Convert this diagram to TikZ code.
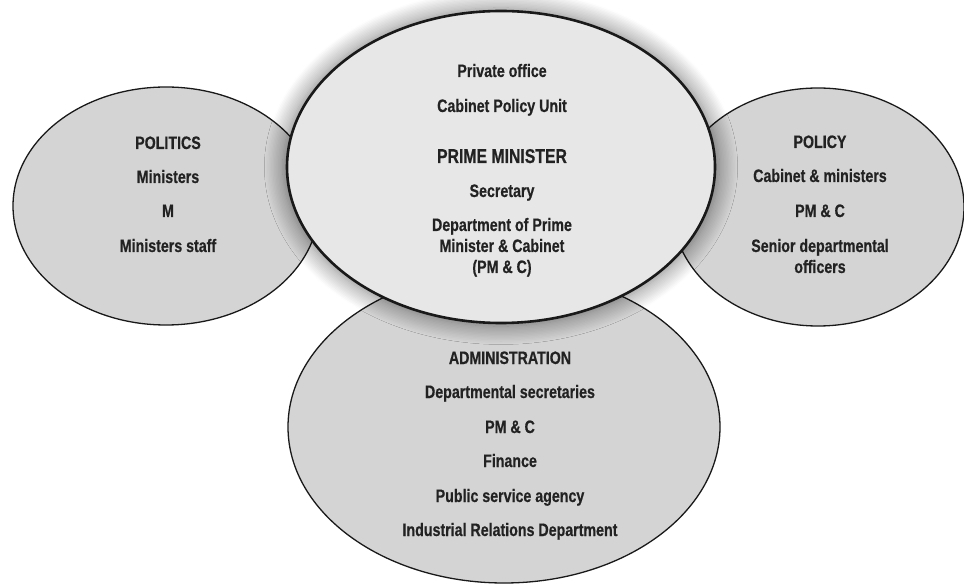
\documentclass[tikz,border=0pt]{standalone}
\usepackage{fontspec}
\setmainfont{Liberation Sans}[FakeStretch=0.79, BoldFeatures={FakeBold=0.5}]
\usetikzlibrary{shapes.geometric,shadows.blur}
\definecolor{outerfill}{HTML}{D4D4D4}
\definecolor{corefill}{HTML}{E7E7E7}
\definecolor{inkgray}{HTML}{222222}
\tikzset{
  sphere/.style={ellipse, inner sep=0pt, fill=outerfill, draw=black!90, line width=1.3pt},
  core/.style={ellipse, inner sep=0pt, fill=corefill, draw=black!90, line width=2.6pt,
    blur shadow={shadow xshift=0pt, shadow yshift=0pt, shadow scale=1.02,
                 shadow blur radius=18pt, shadow blur steps=14, shadow opacity=50}},
  lbl/.style={anchor=base, inner sep=0pt, text=inkgray,
    font=\bfseries\fontsize{18}{20}\selectfont},
  biglbl/.style={lbl, font=\bfseries\fontsize{20}{22}\selectfont}
}
\begin{document}
\begin{tikzpicture}[x=1pt,y=-1pt]
\useasboundingbox (0,0) rectangle (964,585);

% surrounding spheres
\node[sphere, minimum width=306pt, minimum height=238pt] (politics) at (166,206) {};
\node[sphere, minimum width=292pt, minimum height=238pt] (policy) at (818,207) {};
\node[sphere, minimum width=432pt, minimum height=312pt] (admin) at (504,427) {};

% central sphere
\node[core, minimum width=428pt, minimum height=312pt] (pm) at (501,167) {};

% politics
\node[lbl] (pol1) at (168,149) {POLITICS};
\node[lbl] (pol2) at (168,183) {Ministers};
\node[lbl] (pol3) at (168,217) {M};
\node[lbl] (pol4) at (168,252) {Ministers staff};

% policy
\node[lbl] (poc1) at (820,148) {POLICY};
\node[lbl] (poc2) at (820,182) {Cabinet \& ministers};
\node[lbl] (poc3) at (820,217) {PM \& C};
\node[lbl] (poc4) at (820,252) {Senior departmental};
\node[lbl] (poc5) at (820,273) {officers};

% prime minister
\node[lbl] (pm1) at (502,77) {Private office};
\node[lbl] (pm2) at (502,112) {Cabinet Policy Unit};
\node[biglbl] (pm3) at (502,163) {PRIME MINISTER};
\node[lbl] (pm4) at (502,197) {Secretary};
\node[lbl] (pm5) at (502,231) {Department of Prime};
\node[lbl] (pm6) at (502,252) {Minister \& Cabinet};
\node[lbl] (pm7) at (502,273) {(PM \& C)};

% administration
\node[lbl] (ad1) at (510,364) {ADMINISTRATION};
\node[lbl] (ad2) at (510,398) {Departmental secretaries};
\node[lbl] (ad3) at (510,433) {PM \& C};
\node[lbl] (ad4) at (510,467) {Finance};
\node[lbl] (ad5) at (510,502) {Public service agency};
\node[lbl] (ad6) at (510,536) {Industrial Relations Department};
\end{tikzpicture}
\end{document}
